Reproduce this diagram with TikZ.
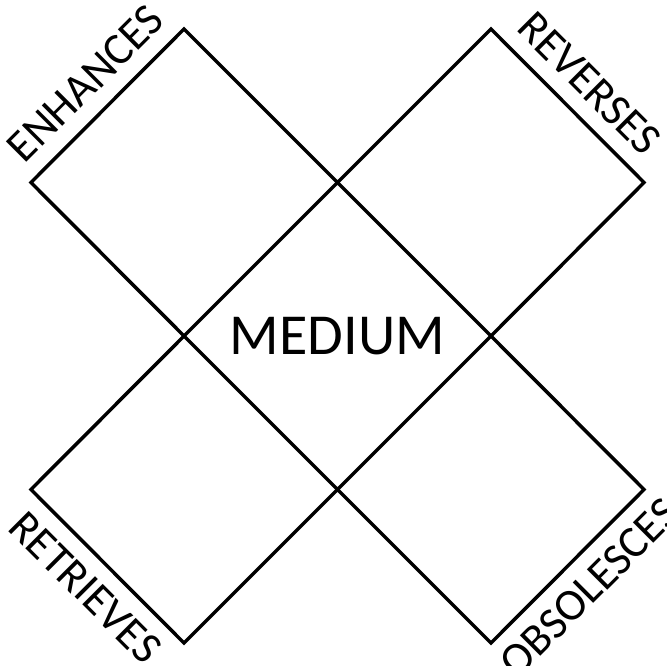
\documentclass[tikz,border=0pt]{standalone}
\usepackage{fontspec}
\setmainfont{Carlito}
\begin{document}
\begin{tikzpicture}[x=1pt,y=-1pt,
  edge/.style={line width=3.5pt,line join=miter,black},
  lbl/.style={font=\fontsize{45}{45}\selectfont,inner sep=0pt}]
\useasboundingbox (0,0) rectangle (667,666);
% key points
\coordinate (TLt) at (184,29);
\coordinate (TRt) at (491,29);
\coordinate (Lu) at (31,182.5);
\coordinate (Ru) at (644,182.5);
\coordinate (Mt) at (337.5,182.5);
\coordinate (Ml) at (184,336);
\coordinate (Mr) at (491,336);
\coordinate (Mb) at (337.5,489.5);
\coordinate (Ld) at (31,489.5);
\coordinate (Rd) at (644,489.5);
\coordinate (BLb) at (184,643);
\coordinate (BRb) at (491,643);
% the X outline and inner diamond
\draw[edge] (TLt) -- (Mt) -- (TRt) -- (Ru) -- (Mr) -- (Rd) -- (BRb) -- (Mb) -- (BLb) -- (Ld) -- (Ml) -- (Lu) -- cycle;
\draw[edge] (Mt) -- (Ml) -- (Mb) -- (Mr) -- cycle;
% labels
\node[font=\fontsize{58}{58}\selectfont,inner sep=0pt] (medium) at (337.5,336) {MEDIUM};
\node[lbl,rotate=45,anchor=south] (enh) at (96,94) {ENHANCES};
\node[lbl,rotate=-45,anchor=south] (rev) at (579,94) {REVERSES};
\node[lbl,rotate=-45,anchor=north] (ret) at (96,577) {RETRIEVES};
\node[lbl,rotate=45,anchor=north] (obs) at (579,577) {OBSOLESCES};
\end{tikzpicture}
\end{document}
